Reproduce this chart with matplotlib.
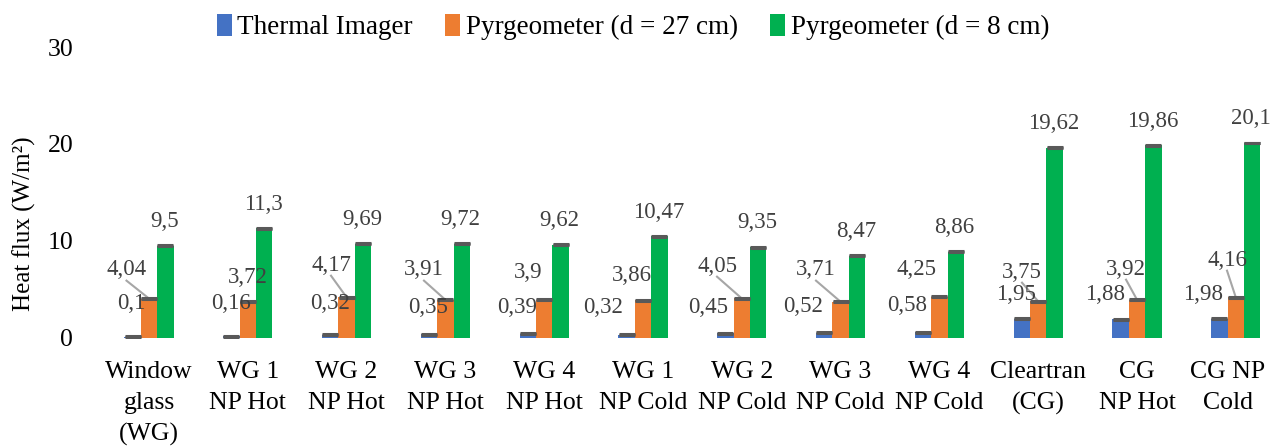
import matplotlib
matplotlib.use('Agg')
import matplotlib.pyplot as plt
import matplotlib.transforms as mtransforms
import numpy as np

plt.rcParams['font.family'] = ['Liberation Serif', 'DejaVu Serif']

# Данные
categories = ['Window\nglass\n(WG)', 'WG 1\nNP Hot', 'WG 2\nNP Hot', 'WG 3\nNP Hot', 'WG 4\nNP Hot',
              'WG 1\nNP Cold', 'WG 2\nNP Cold', 'WG 3\nNP Cold', 'WG 4\nNP Cold',
              'Cleartran\n(CG)', 'CG\nNP Hot', 'CG NP\nCold']
series_names = ['Thermal Imager', 'Pyrgeometer (d = 27 cm)', 'Pyrgeometer (d = 8 cm)']
thermal = [0.1, 0.16, 0.32, 0.35, 0.39, 0.32, 0.45, 0.52, 0.58, 1.95, 1.88, 1.98]
pyr27 = [4.04, 3.72, 4.17, 3.91, 3.9, 3.86, 4.05, 3.71, 4.25, 3.75, 3.92, 4.16]
pyr8 = [9.5, 11.3, 9.69, 9.72, 9.62, 10.47, 9.35, 8.47, 8.86, 19.62, 19.86, 20.1]
err = [0.05] * 12
y_ticks = [0, 10, 20, 30]

colors = ['#4472C4', '#ED7D31', '#00B050']

# Положение подписей (как в Excel)
thermal_lab_dx = [-0.175, -0.17, -0.168, -0.176, -0.275, -0.405, -0.342, -0.381, -0.328, -0.225, -0.324, -0.332]
thermal_lab_y = [3.58, 3.58, 3.58, 3.07, 3.07, 3.07, 3.07, 3.27, 3.37, 4.41, 4.41, 4.41]
orange_lab_dx = [-0.228, 0.002, -0.158, -0.217, -0.164, -0.111, -0.251, -0.249, -0.237, -0.164, -0.111, -0.089]
orange_lab_y = [6.99, 6.26, 7.50, 6.99, 6.78, 6.47, 7.40, 6.99, 6.99, 6.78, 7.09, 8.02]
leader = [1, 0, 1, 1, 0, 0, 1, 1, 0, 1, 1, 1]

fig = plt.figure(figsize=(12.74, 4.47), dpi=100)
ax = fig.add_axes([0.0782, 0.2445, 0.9306, 0.6501])

x = np.arange(len(categories))
w = 0.166
for k, (vals, name) in enumerate(zip([thermal, pyr27, pyr8], series_names)):
    pos = x + (k - 1) * w
    ax.bar(pos, vals, w, color=colors[k], label=name, zorder=2)
    ax.errorbar(pos, vals, yerr=err, fmt='none', ecolor='#595959',
                capsize=6, capthick=2.2, elinewidth=1, zorder=3)

lab_kw = dict(ha='center', va='center', fontsize=16.5, color='#404040', zorder=4)
for i in range(len(categories)):
    ax.text(i + thermal_lab_dx[i], thermal_lab_y[i], f'{thermal[i]:g}'.replace('.', ','), **lab_kw)
    ox, oy = i + orange_lab_dx[i], orange_lab_y[i]
    ax.text(ox, oy, f'{pyr27[i]:g}'.replace('.', ','), **lab_kw)
    if leader[i]:
        ax.plot([ox, i], [oy - 1.1, pyr27[i]], color='#A6A6A6', lw=1.5, zorder=1.5)
    ax.text(i + w * 0.93, pyr8[i] + 2.5, f'{pyr8[i]:g}'.replace('.', ','), **lab_kw)

ax.set_xlim(-0.5, 11.5)
ax.set_ylim(0, 30)
ax.set_yticks(y_ticks)
ax.set_xticks(x)
ax.set_xticklabels(categories, fontsize=18.5, linespacing=1.5)
ax.tick_params(axis='y', length=0, labelsize=18.5, pad=19)
ax.tick_params(axis='x', length=0, pad=17)
for s in ax.spines.values():
    s.set_visible(False)

# последняя подпись сдвинута влево, чтобы не обрезалась
last = ax.get_xticklabels()[-1]
last.set_transform(last.get_transform() + mtransforms.ScaledTranslation(-0.08, 0, fig.dpi_scale_trans))

fig.text(0.019, 0.5, 'Heat flux (W/m²)', rotation=90, ha='center', va='center', fontsize=18)

fig.legend(loc='center', bbox_to_anchor=(0.497, 0.94), ncol=3, frameon=False, fontsize=19.5,
           handlelength=0.55, handleheight=0.9, handletextpad=0.2, columnspacing=1.2)

fig.savefig('out.png', dpi=100)
